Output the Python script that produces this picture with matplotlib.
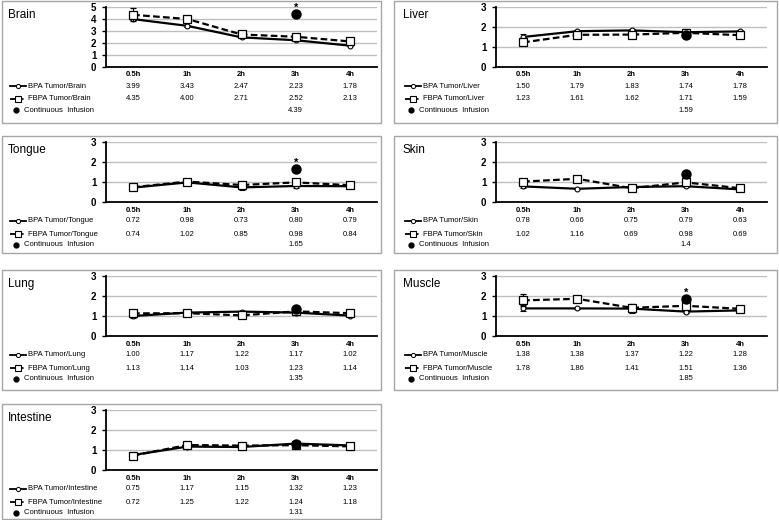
import matplotlib
matplotlib.use("Agg")
import matplotlib.pyplot as plt
from matplotlib.patches import Rectangle
from matplotlib.transforms import blended_transform_factory

plt.rcParams['font.family'] = ['Liberation Sans', 'DejaVu Sans']

##########################################
# data
##########################################
times = ["0.5h", "1h", "2h", "3h", "4h"]
organs = ["Brain", "Liver", "Tongue", "Skin", "Lung", "Muscle", "Intestine"]
y_max = [5, 3, 3, 3, 3, 3, 3]

bpa_brain = [3.99, 3.43, 2.47, 2.23, 1.78]
fbpa_brain = [4.35, 4.00, 2.71, 2.52, 2.13]
bpa_liver = [1.50, 1.79, 1.83, 1.74, 1.78]
fbpa_liver = [1.23, 1.61, 1.62, 1.71, 1.59]
bpa_tongue = [0.72, 0.98, 0.73, 0.80, 0.79]
fbpa_tongue = [0.74, 1.02, 0.85, 0.98, 0.84]
bpa_skin = [0.78, 0.66, 0.75, 0.79, 0.63]
fbpa_skin = [1.02, 1.16, 0.69, 0.98, 0.69]
bpa_lung = [1.00, 1.17, 1.22, 1.17, 1.02]
fbpa_lung = [1.13, 1.14, 1.03, 1.23, 1.14]
bpa_muscle = [1.38, 1.38, 1.37, 1.22, 1.28]
fbpa_muscle = [1.78, 1.86, 1.41, 1.51, 1.36]
bpa_intestine = [0.75, 1.17, 1.15, 1.32, 1.23]
fbpa_intestine = [0.72, 1.25, 1.22, 1.24, 1.18]

# error bars
bpa_err_brain = [0.10, 0.08, 0.05, 0.05, 0.05]
fbpa_err_brain = [0.55, 0.15, 0.10, 0.10, 0.08]
bpa_err_liver = [0.15, 0.05, 0.05, 0.15, 0.05]
fbpa_err_liver = [0.05, 0.15, 0.12, 0.10, 0.05]
bpa_err_tongue = [0.03, 0.05, 0.12, 0.10, 0.08]
fbpa_err_tongue = [0.03, 0.05, 0.05, 0.05, 0.05]
bpa_err_skin = [0.10, 0.03, 0.05, 0.05, 0.05]
fbpa_err_skin = [0.05, 0.08, 0.05, 0.08, 0.05]
bpa_err_lung = [0.08, 0.03, 0.05, 0.03, 0.05]
fbpa_err_lung = [0.12, 0.05, 0.12, 0.05, 0.05]
bpa_err_muscle = [0.15, 0.03, 0.20, 0.05, 0.05]
fbpa_err_muscle = [0.30, 0.10, 0.20, 0.10, 0.05]
bpa_err_intestine = [0.05, 0.08, 0.05, 0.05, 0.05]
fbpa_err_intestine = [0.05, 0.08, 0.08, 0.05, 0.05]

ci_values = [4.39, 1.59, 1.65, 1.4, 1.35, 1.85, 1.31]
ci_labels = ["4.39", "1.59", "1.65", "1.4", "1.35", "1.85", "1.31"]
ci_star = [True, False, True, False, False, True, False]
ci_index = 3  # all continuous infusion points at 3h

bpa = [bpa_brain, bpa_liver, bpa_tongue, bpa_skin, bpa_lung, bpa_muscle, bpa_intestine]
fbpa = [fbpa_brain, fbpa_liver, fbpa_tongue, fbpa_skin, fbpa_lung, fbpa_muscle, fbpa_intestine]
bpa_err = [bpa_err_brain, bpa_err_liver, bpa_err_tongue, bpa_err_skin,
           bpa_err_lung, bpa_err_muscle, bpa_err_intestine]
fbpa_err = [fbpa_err_brain, fbpa_err_liver, fbpa_err_tongue, fbpa_err_skin,
            fbpa_err_lung, fbpa_err_muscle, fbpa_err_intestine]

##########################################
# layout in pixels
##########################################
W, H = 779, 520
box_left = [2, 394]
box_width = [379, 383]
axes_left = [106, 496]
axes_width = 271
text_left = [0, 395]
row_top = [1, 136, 270, 404]
box_height = [122, 117, 120, 115]
fs = 5.5

fig = plt.figure(figsize=(W / 100, H / 100), dpi=100)
bg = fig.add_axes([0, 0, 1, 1])
bg.set_xlim(0, W)
bg.set_ylim(H, 0)
bg.axis('off')

for k, organ in enumerate(organs):
    row, col = divmod(k, 2)
    top = row_top[row]

    bg.add_patch(Rectangle((box_left[col], top), box_width[col], box_height[row],
                           fill=False, edgecolor='#a6a6a6', lw=1.0))

    ax_top = top + 6
    ax = fig.add_axes([axes_left[col] / W, 1 - (ax_top + 60) / H, axes_width / W, 60 / H])
    ax.set_facecolor('none')
    x = list(range(len(times)))

    ax.errorbar(x, bpa[k], yerr=bpa_err[k], color='black', lw=1.6, ls='-',
                marker='o', ms=3.5, mfc='white', mec='black', mew=0.8,
                elinewidth=0.8, capsize=2, capthick=0.8, zorder=3)
    ax.errorbar(x, fbpa[k], yerr=fbpa_err[k], color='black', lw=1.6, ls=(0, (3, 1.5)),
                marker='s', ms=5.5, mfc='white', mec='black', mew=0.9,
                elinewidth=0.8, capsize=2, capthick=0.8, zorder=4)
    ax.plot([ci_index], [ci_values[k]], 'o', color='black', ms=6.5, zorder=5)
    if ci_star[k]:
        ax.annotate('*', (ci_index, ci_values[k]), xytext=(0, 1), textcoords='offset points',
                    ha='center', va='bottom', fontsize=8, fontweight='bold',
                    annotation_clip=False)

    ax.set_xlim(-0.5, len(times) - 0.5)
    ax.set_ylim(0, y_max[k])
    ax.set_yticks(range(0, y_max[k] + 1))
    ax.set_xticks([])
    ax.grid(axis='y', color='#bfbfbf', lw=1.0)
    ax.set_axisbelow(True)
    for s in ['top', 'right']:
        ax.spines[s].set_visible(False)
    ax.spines['left'].set_linewidth(1.3)
    ax.spines['bottom'].set_linewidth(1.3)
    ax.tick_params(axis='y', length=3, width=1, pad=4, labelsize=7)
    for t in ax.get_yticklabels():
        t.set_fontweight('bold')

    # title
    bg.text(text_left[col] + 8, top + 14, organ, fontsize=8.5, ha='left', va='center')

    # data table under the chart
    tr = blended_transform_factory(ax.transData, bg.transData)
    ax_bottom = ax_top + 60
    for i, t in enumerate(times):
        ax.text(i, ax_bottom + 8, t, transform=tr, ha='center', va='center',
                fontsize=fs, fontweight='bold')
        ax.text(i, ax_bottom + 19, f"{bpa[k][i]:.2f}", transform=tr, ha='center',
                va='center', fontsize=fs)
        ax.text(i, ax_bottom + 32, f"{fbpa[k][i]:.2f}", transform=tr, ha='center',
                va='center', fontsize=fs)
    ax.text(ci_index, ax_bottom + 43, ci_labels[k], transform=tr, ha='center',
            va='center', fontsize=fs)

    # row labels with legend symbols
    lx = text_left[col]
    y1, y2, y3 = ax_bottom + 19, ax_bottom + 32, ax_bottom + 43
    bg.plot([lx + 10, lx + 26], [y1, y1], color='black', lw=1.3)
    bg.plot([lx + 18], [y1], 'o', ms=3, mfc='white', mec='black', mew=0.7)
    bg.plot([lx + 10, lx + 26], [y2, y2], color='black', lw=1.3, ls=(0, (3, 1.5)))
    bg.plot([lx + 18], [y2], 's', ms=4.5, mfc='white', mec='black', mew=0.8)
    bg.plot([lx + 16], [y3], 'o', color='black', ms=3.5)
    bg.text(lx + 28, y1, f"BPA Tumor/{organ}", fontsize=fs, ha='left', va='center')
    bg.text(lx + 28, y2, f"FBPA Tumor/{organ}", fontsize=fs, ha='left', va='center')
    bg.text(lx + 24, y3, "Continuous  Infusion", fontsize=fs, ha='left', va='center')

fig.savefig("out.png", dpi=100)
